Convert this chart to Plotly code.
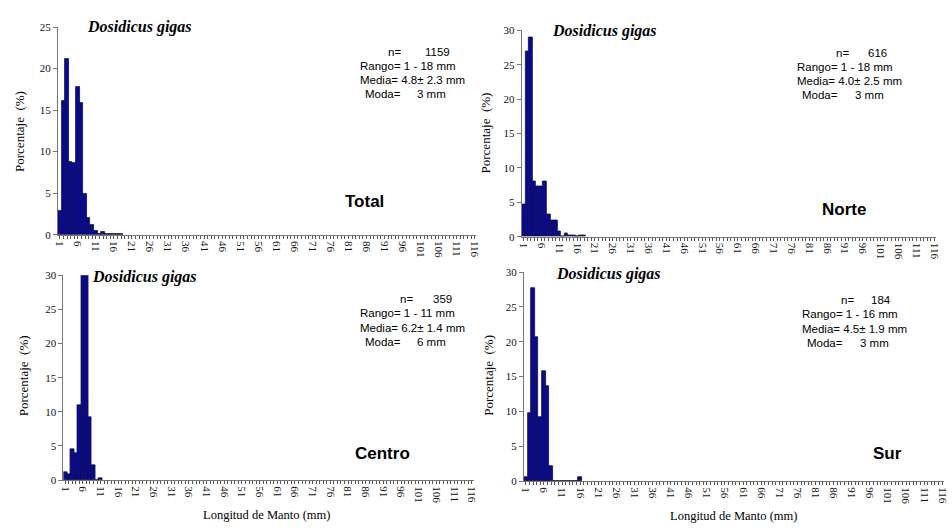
import plotly.graph_objects as go

W, H = 952, 531

# Length classes (mm)
lengths = list(range(1, 117))
tick_labels = [1, 6, 11, 16, 21, 26, 31, 36, 41, 46, 51, 56, 61, 66, 71, 76, 81, 86, 91, 96, 101, 106, 111, 116]

# Percentages per length class, starting at 1 mm
total_pct = [2.8, 16.1, 21.1, 8.7, 8.6, 17.8, 15.8, 4.85, 1.96, 1.2, 0.4, 0.05, 0.35, 0.1, 0.1, 0.1, 0.1, 0.1]
norte_pct = [4.65, 27.0, 29.0, 8.1, 7.25, 7.25, 8.1, 3.2, 2.4, 2.4, 0.8, 0.0, 0.5, 0.16, 0.16, 0.0, 0.16, 0.16]
centro_pct = [1.1, 0.84, 4.5, 3.9, 11.0, 35.4, 31.8, 9.2, 2.2, 0.0, 0.28]
sur_pct = [0.54, 9.8, 27.7, 20.7, 9.2, 15.8, 13.6, 2.2, 0, 0, 0, 0, 0, 0, 0, 0.54]

panels = [
    dict(name="Total", vals=total_pct, ymax=25, n="1159", rango="1 - 18 mm", media="4.8\u00b1 2.3 mm", moda="3 mm"),
    dict(name="Norte", vals=norte_pct, ymax=30, n="616", rango="1 - 18 mm", media="4.0\u00b1 2.5 mm", moda="3 mm"),
    dict(name="Centro", vals=centro_pct, ymax=30, n="359", rango="1 - 11 mm", media="6.2\u00b1 1.4 mm", moda="6 mm"),
    dict(name="Sur", vals=sur_pct, ymax=30, n="184", rango="1 - 16 mm", media="4.5\u00b1 1.9 mm", moda="3 mm"),
]

# pixel layout: x0, x1, ytop(ymax), ybottom(0)
boxes = [(54.5, 477, 21.5, 234), (522.7, 941, 25, 236), (60, 474, 275.5, 485), (525, 949, 272.3, 486)]
species_pos = [(82, 21), (551, 26), (87, 277), (555, 274)]
region_pos = [(364, 200), (848, 208), (382, 458), (892, 458)]
stats_pos = [(357, 47), (799, 48), (357, 300), (804, 301)]
n_offsets = [(29, 66), (39, 71), (41, 74), (39, 69)]
ytitle_pos = [(15, 128), (486, 130), (20, 378), (489, 378)]
xtitle_pos = [None, None, (265, 521), (736, 522)]

def px(x):
    return x / W

def py(y):
    return 1 - y / H

fig = go.Figure()
serif = "Liberation Serif"
sans = "Liberation Sans"
annotations = []

for i, (p, b) in enumerate(zip(panels, boxes)):
    k = "" if i == 0 else str(i + 1)
    fig.add_trace(go.Bar(
        x=lengths[:len(p["vals"])], y=p["vals"],
        xaxis="x" + k, yaxis="y" + k,
        marker=dict(color="#08089a", line=dict(color="#141430", width=0.8)),
        showlegend=False,
    ))
    x0, x1, yt, yb = b
    fig.layout["xaxis" + k] = dict(
        domain=[px(x0), px(x1)], anchor="y" + k, range=[0.5, 116.5],
        tickmode="array", tickvals=tick_labels, ticktext=[str(t) for t in tick_labels],
        tickangle=90, ticks="outside", ticklen=3, tickcolor="#555",
        minor=dict(tick0=1, dtick=1, ticks="outside", ticklen=3, tickcolor="#555"),
        showline=True, linecolor="#777", linewidth=1, showgrid=False, zeroline=False,
        tickfont=dict(family=serif, size=11, color="#111"),
    )
    fig.layout["yaxis" + k] = dict(
        domain=[py(yb), py(yt)], anchor="x" + k, range=[0, p["ymax"]],
        tickmode="linear", tick0=0, dtick=5, ticks="outside", ticklen=4, tickcolor="#777",
        showline=True, linecolor="#777", linewidth=1, showgrid=False, zeroline=False,
        tickfont=dict(family=serif, size=11, color="#111"),
    )
    sx, sy = species_pos[i]
    annotations.append(dict(x=px(sx), y=py(sy), xref="paper", yref="paper", xanchor="left", yanchor="middle",
                            text="<b><i>Dosidicus gigas</i></b>", showarrow=False,
                            font=dict(family=serif, size=16, color="#000")))
    rx, ry = region_pos[i]
    annotations.append(dict(x=px(rx), y=py(ry), xref="paper", yref="paper", xanchor="center", yanchor="middle",
                            text="<b>%s</b>" % p["name"], showarrow=False,
                            font=dict(family=sans, size=17, color="#000")))
    stx, sty = stats_pos[i]
    ndx, nvx = n_offsets[i]
    lines = [
        (stx + ndx, "n="), (stx + nvx, p["n"]),
        (stx, "Rango= " + p["rango"]),
        (stx, "Media= " + p["media"]),
        (stx + 5, "Moda="), (stx + 58, p["moda"]),
    ]
    rows = [0, 0, 1, 2, 3, 3]
    for (xx, txt), r in zip(lines, rows):
        yy = sty + r * 14.5
        annotations.append(dict(x=px(xx), y=py(yy), xref="paper", yref="paper", xanchor="left", yanchor="middle",
                                text=txt, showarrow=False, font=dict(family=sans, size=11.5, color="#000")))
    tx, ty = ytitle_pos[i]
    annotations.append(dict(x=px(tx), y=py(ty), xref="paper", yref="paper", xanchor="center", yanchor="middle",
                            text="Porcentaje  (%)", textangle=-90, showarrow=False,
                            font=dict(family=serif, size=13, color="#000")))
    if xtitle_pos[i]:
        tx, ty = xtitle_pos[i]
        annotations.append(dict(x=px(tx), y=py(ty), xref="paper", yref="paper", xanchor="center", yanchor="middle",
                                text="Longitud de Manto (mm)", showarrow=False,
                                font=dict(family=serif, size=12.5, color="#000")))

fig.update_layout(
    width=W, height=H, margin=dict(l=0, r=0, t=0, b=0),
    paper_bgcolor="white", plot_bgcolor="white",
    bargap=0, annotations=annotations, showlegend=False,
)

fig.write_html("out.html")
